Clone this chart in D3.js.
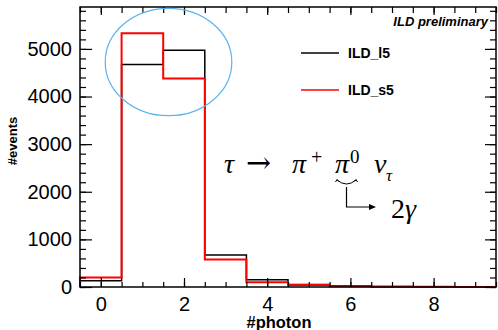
<!DOCTYPE html>
<html><head><meta charset="utf-8">
<script src="https://cdn.jsdelivr.net/npm/d3@7"></script>
<style>html,body{margin:0;padding:0;background:#fff;}svg{display:block;}</style>
</head><body>
<script>
// ---- data ----
const binCenters = [0, 1, 2, 3, 4, 5, 6, 7, 8, 9];
const ILD_l5 = [130, 4670, 4970, 670, 150, 50, 25, 8, 4, 2];
const ILD_s5 = [200, 5330, 4380, 575, 100, 40, 15, 5, 3, 1];
const xTickLabels = [0, 2, 4, 6, 8];
const yTickLabels = [0, 1000, 2000, 3000, 4000, 5000];
const seriesNames = ["ILD_l5", "ILD_s5"];
const seriesColors = ["#000000", "#ff0000"];

const W = 498, H = 330;
const svg = d3.select("body").append("svg").attr("width", W).attr("height", H);
const L = 80, R = 496, T = 7, B = 287;
const x = d3.scaleLinear().domain([-0.5, 9.5]).range([L, R]);
const y = d3.scaleLinear().domain([0, 5880]).range([B, T]);

const font = "'Liberation Sans', Arial, Helvetica, sans-serif";
const serif = "'Liberation Serif', 'Times New Roman', serif";

// histogram outlines
function histPoints(vals) {
  const pts = [[-0.5, 0]];
  vals.forEach((v, i) => { pts.push([binCenters[i] - 0.5, v]); pts.push([binCenters[i] + 0.5, v]); });
  pts.push([9.5, 0]);
  return pts;
}
const line = d3.line().x(d => x(d[0])).y(d => y(d[1]));
[ILD_l5, ILD_s5].forEach((vals, k) => {
  svg.append("path").attr("d", line(histPoints(vals)))
    .attr("fill", "none").attr("stroke", seriesColors[k])
    .attr("stroke-width", k === 0 ? 1.5 : 2);
});

// frame
svg.append("rect").attr("x", L).attr("y", T).attr("width", R - L).attr("height", B - T)
  .attr("fill", "none").attr("stroke", "#000").attr("stroke-width", 1.5);

// axes ticks
const minorX = d3.range(-0.5, 9.51, 0.5);
const minorY = d3.range(0, 5801, 200);
const fmt = d3.format("d");
function axisG(gen, tx, ty) {
  const g = svg.append("g").attr("transform", `translate(${tx},${ty})`).call(gen);
  g.select(".domain").remove();
  g.selectAll("line").attr("stroke", "#000").attr("stroke-width", 1.2);
  return g;
}
// bottom
axisG(d3.axisBottom(x).tickValues(minorX).tickSize(-5).tickFormat(""), 0, B);
const bx = axisG(d3.axisBottom(x).tickValues(xTickLabels).tickSize(-9).tickPadding(10).tickFormat(fmt), 0, B);
bx.selectAll("text").attr("font-family", font).attr("font-size", 20).attr("fill", "#000");
// top
axisG(d3.axisTop(x).tickValues(minorX).tickSize(-6).tickFormat(""), 0, T);
axisG(d3.axisTop(x).tickValues(xTickLabels).tickSize(-8).tickFormat(""), 0, T);
// left
axisG(d3.axisLeft(y).tickValues(minorY).tickSize(-6).tickFormat(""), L, 0);
const ly = axisG(d3.axisLeft(y).tickValues(yTickLabels).tickSize(-12).tickPadding(8).tickFormat(fmt), L, 0);
ly.selectAll("text").attr("font-family", font).attr("font-size", 20).attr("fill", "#000");
// right
axisG(d3.axisRight(y).tickValues(minorY).tickSize(-6).tickFormat(""), R, 0);
axisG(d3.axisRight(y).tickValues(yTickLabels).tickSize(-11).tickFormat(""), R, 0);

// axis titles
svg.append("text").attr("x", 279).attr("y", 328).attr("text-anchor", "middle")
  .attr("font-family", font).attr("font-weight", "bold").attr("font-size", 16.5).text("#photon");
svg.append("text").attr("transform", "translate(17,141) rotate(-90)").attr("text-anchor", "middle")
  .attr("font-family", font).attr("font-weight", "bold").attr("font-size", 13).text("#events");

// ILD preliminary
svg.append("text").attr("x", 488).attr("y", 26).attr("text-anchor", "end")
  .attr("font-family", font).attr("font-weight", "bold").attr("font-style", "italic")
  .attr("font-size", 13).text("ILD preliminary");

// legend
[53, 90].forEach((ly0, k) => {
  svg.append("line").attr("x1", 301).attr("x2", 339).attr("y1", ly0).attr("y2", ly0)
    .attr("stroke", seriesColors[k]).attr("stroke-width", 1.5);
  svg.append("text").attr("x", 348).attr("y", ly0 + 5)
    .attr("font-family", font).attr("font-weight", "bold").attr("font-size", 14).text(seriesNames[k]);
});

// ellipse
svg.append("ellipse").attr("cx", 168.5).attr("cy", 62).attr("rx", 63.3).attr("ry", 53.7)
  .attr("fill", "none").attr("stroke", "#5ab4ee").attr("stroke-width", 1.2);

// formula
function t(xx, yy, s, size, italic, fam) {
  return svg.append("text").attr("x", xx).attr("y", yy).attr("font-family", fam || serif)
    .attr("font-size", size).attr("font-style", italic ? "italic" : "normal").text(s);
}
t(224, 173, "τ", 28, true);
t(246, 173, "→", 30, false, "'DejaVu Serif', serif");
t(292, 173, "π", 28, true);
t(311, 164, "+", 20, false);
t(335, 173, "π", 28, true);
t(350, 163, "0", 19, false);
t(374, 173, "ν", 28, true);
t(386, 181, "τ", 17, true);
// brace under pi0
svg.append("path").attr("d", "M337,180 Q346.5,188 356,180").attr("fill", "none").attr("stroke", "#000").attr("stroke-width", 1);
svg.append("path").attr("d", "M335.5,182 L337,179.5 L339,181.5 M357.5,182 L356,179.5 L354,181.5").attr("fill", "none").attr("stroke", "#000").attr("stroke-width", 1);
// arrow
svg.append("path").attr("d", "M346.5,187 V207 H371").attr("fill", "none").attr("stroke", "#000").attr("stroke-width", 1.2);
svg.append("path").attr("d", "M376,207 L369,204 L369,210 Z").attr("fill", "#000");
t(391, 218, "2", 28, false);
t(405, 218, "γ", 28, true);
</script>
</body></html>
